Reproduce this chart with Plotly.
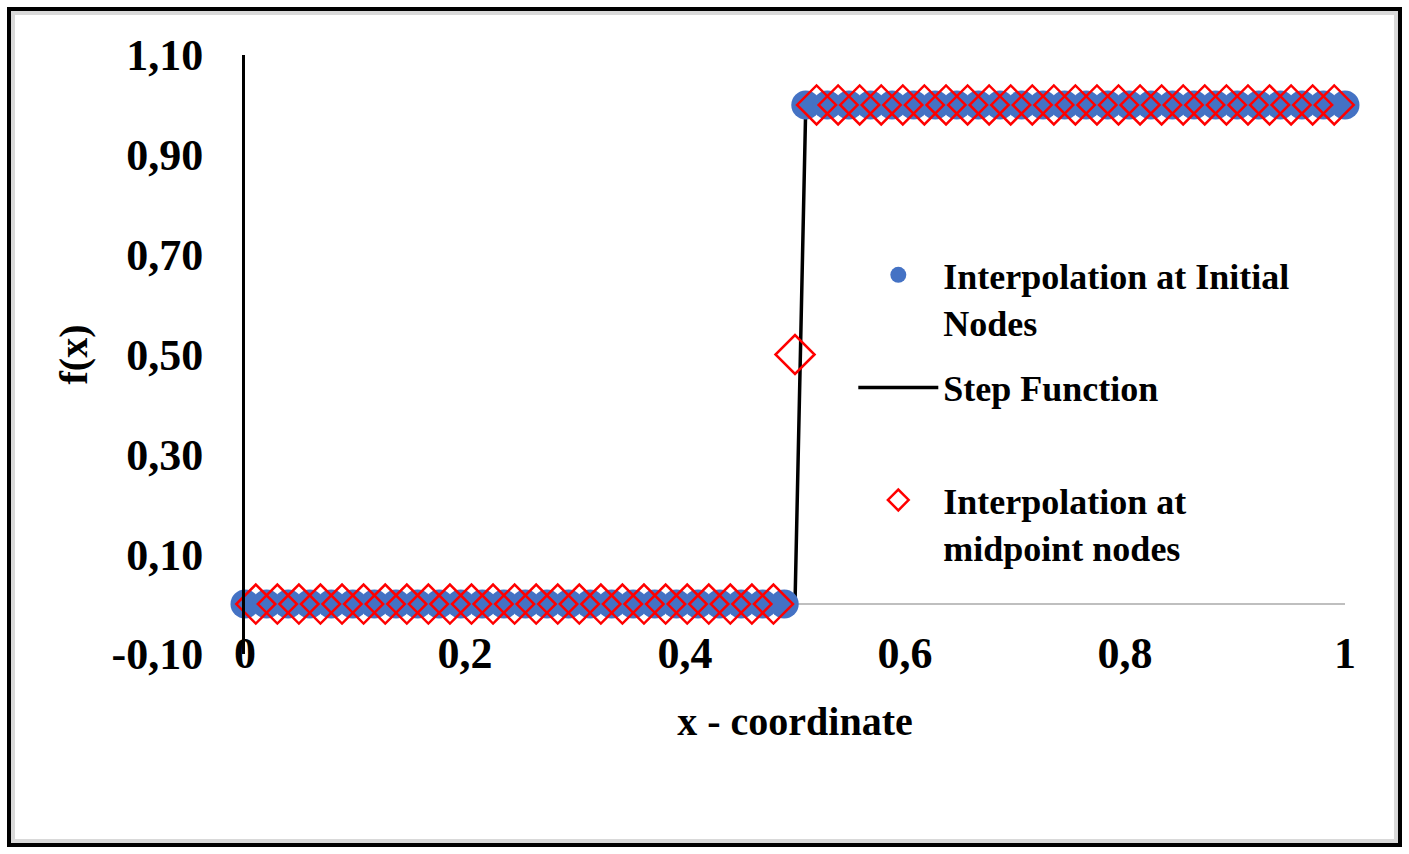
import plotly.graph_objects as go

# ---------------- data ----------------
node_x = [0.0, 0.0196, 0.0392, 0.0588, 0.0784, 0.0980, 0.1176, 0.1373, 0.1569, 0.1765,
          0.1961, 0.2157, 0.2353, 0.2549, 0.2745, 0.2941, 0.3137, 0.3333, 0.3529, 0.3725,
          0.3922, 0.4118, 0.4314, 0.4510, 0.4706, 0.4902, 0.5098, 0.5294, 0.5490, 0.5686,
          0.5882, 0.6078, 0.6275, 0.6471, 0.6667, 0.6863, 0.7059, 0.7255, 0.7451, 0.7647,
          0.7843, 0.8039, 0.8235, 0.8431, 0.8627, 0.8824, 0.9020, 0.9216, 0.9412, 0.9608,
          0.9804, 1.0]
node_y = [0] * 26 + [1] * 26

mid_x = [0.0098, 0.0294, 0.0490, 0.0686, 0.0882, 0.1078, 0.1275, 0.1471, 0.1667, 0.1863,
         0.2059, 0.2255, 0.2451, 0.2647, 0.2843, 0.3039, 0.3235, 0.3431, 0.3627, 0.3824,
         0.4020, 0.4216, 0.4412, 0.4608, 0.4804, 0.5000, 0.5196, 0.5392, 0.5588, 0.5784,
         0.5980, 0.6176, 0.6373, 0.6569, 0.6765, 0.6961, 0.7157, 0.7353, 0.7549, 0.7745,
         0.7941, 0.8137, 0.8333, 0.8529, 0.8725, 0.8922, 0.9118, 0.9314, 0.9510, 0.9706,
         0.9902]
mid_y = [0] * 25 + [0.5] + [1] * 25

step_x = [0.0, 0.5, 0.5098, 1.0]
step_y = [0, 0, 1, 1]

y_ticks = [-0.1, 0.1, 0.3, 0.5, 0.7, 0.9, 1.1]
y_tick_text = ["-0,10", "0,10", "0,30", "0,50", "0,70", "0,90", "1,10"]
x_ticks = [0, 0.2, 0.4, 0.6, 0.8, 1.0]
x_tick_text = ["0", "0,2", "0,4", "0,6", "0,8", "1"]

# ---------------- geometry helpers ----------------
W, H = 1409, 854
L, R, T, B = 245, 64, 55, 200
PW, PH = W - L - R, H - T - B


def px(x):
    return (x - L) / PW


def py(y):
    return (H - B - y) / PH


FONT = "Liberation Serif, Times New Roman, serif"

fig = go.Figure()
fig.add_trace(go.Scatter(
    x=step_x, y=step_y, mode="lines", name="Step Function<br> ",
    line=dict(color="black", width=3.5), legendrank=2, legendgroup="b",
    cliponaxis=False))
fig.add_trace(go.Scatter(
    x=node_x, y=node_y, mode="markers", name="Interpolation at Initial<br>Nodes",
    marker=dict(symbol="circle", size=29, color="#4472C4", line=dict(width=0)),
    legendrank=1, legendgroup="a", cliponaxis=False))
fig.add_trace(go.Scatter(
    x=mid_x, y=mid_y, mode="markers", name="Interpolation at<br>midpoint nodes",
    marker=dict(symbol="diamond-open", size=30, color="#FF0000",
                line=dict(width=2.5, color="#FF0000")),
    legendrank=3, legendgroup="c", cliponaxis=False))

shapes = [
    dict(type="rect", xref="paper", yref="paper",
         x0=px(13), x1=px(1396), y0=py(13), y1=py(841),
         line=dict(color="#d9d9d9", width=4), layer="below"),
    dict(type="rect", xref="paper", yref="paper",
         x0=px(9), x1=px(1400), y0=py(9), y1=py(845),
         line=dict(color="black", width=4), layer="above"),
]

annotations = [
    dict(text="f(x)", xref="paper", yref="paper", x=px(73), y=0.5,
         xanchor="center", yanchor="middle", textangle=-90, showarrow=False,
         font=dict(family=FONT, size=40, color="black", weight="bold")),
]

fig.update_layout(
    width=W, height=H,
    margin=dict(l=L, r=R, t=T, b=B),
    paper_bgcolor="white", plot_bgcolor="white",
    font=dict(family=FONT, color="black", size=40, weight="bold"),
    showlegend=True,
    legend=dict(
        x=0.553, y=0.683, xanchor="left", yanchor="top",
        font=dict(family=FONT, size=36, color="black", weight="bold"),
        valign="top", itemwidth=80, bgcolor="rgba(0,0,0,0)",
        tracegroupgap=16, traceorder="grouped", itemsizing="trace",
    ),
    shapes=shapes,
    annotations=annotations,
    xaxis=dict(
        range=[0, 1], tickvals=x_ticks, ticktext=x_tick_text,
        showgrid=False, zeroline=False,
        showline=False, ticks="", ticklabelstandoff=-31,
        tickfont=dict(family=FONT, size=44, weight="bold"),
        title=dict(text="x - coordinate", standoff=29,
                   font=dict(family=FONT, size=40, weight="bold")),
    ),
    yaxis=dict(
        range=[-0.1, 1.1], tickvals=y_ticks, ticktext=y_tick_text,
        showgrid=False, zeroline=True, zerolinecolor="#bfbfbf", zerolinewidth=2,
        showline=True, linecolor="black", linewidth=3, ticks="",
        ticklabelstandoff=30,
        tickfont=dict(family=FONT, size=44, weight="bold"),
    ),
)

fig.write_html("out.html", config={"displayModeBar": False},
               post_script="document.body.style.margin='0';")
